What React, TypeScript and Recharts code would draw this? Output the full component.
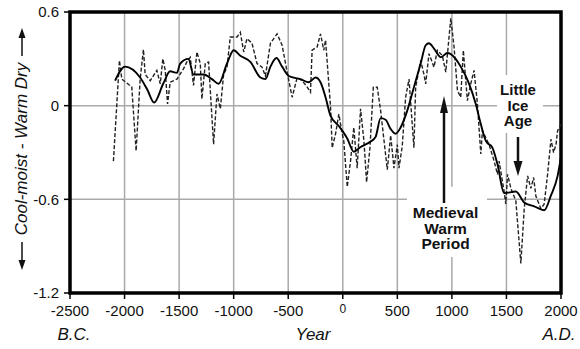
import React from "react";
import {
  LineChart,
  Line,
  XAxis,
  YAxis,
  CartesianGrid,
  ReferenceArea,
} from "recharts";

// smoothed curve (solid)
const smoothYears = [
  -2087, -1995, -1857, -1790, -1729, -1646, -1582, -1520, -1490, -1415, -1368,
  -1276, -1199, -1138, -1061, -1000, -939, -847, -755, -709, -663, -608, -556,
  -495, -388, -311, -250, -204, -158, -112, -36, 41, 101, 163, 255, 301, 347,
  393, 439, 484, 530, 591, 652, 714, 760, 790, 836, 898, 959, 990, 1081, 1158,
  1219, 1265, 1311, 1372, 1418, 1479, 1586, 1663, 1755, 1846, 1908, 1969, 2000,
];
const smoothValues = [
  0.16, 0.25, 0.18, 0.1, 0.02, 0.14, 0.22, 0.21, 0.27, 0.3, 0.2, 0.2, 0.17,
  0.14, 0.27, 0.355, 0.32, 0.28, 0.18, 0.17, 0.25, 0.305, 0.25, 0.19, 0.17,
  0.15, 0.18, 0.15, 0.054, -0.065, -0.13, -0.21, -0.295, -0.265, -0.23, -0.2,
  -0.08, -0.09, -0.15, -0.18, -0.14, -0.032, 0.118, 0.27, 0.387, 0.4, 0.366,
  0.31, 0.337, 0.33, 0.25, 0.14, 0.011, -0.118, -0.226, -0.27, -0.376, -0.56,
  -0.55, -0.62, -0.645, -0.67, -0.575, -0.45, -0.33,
];

// raw proxy record (dashed)
const proxyYears = [
  -2102, -2047, -2025, -1934, -1894, -1857, -1827, -1811, -1765, -1704, -1673,
  -1649, -1627, -1606, -1582, -1520, -1459, -1429, -1398, -1368, -1337, -1306,
  -1291, -1260, -1230, -1184, -1153, -1122, -1092, -1061, -1031, -969, -939,
  -908, -878, -832, -786, -740, -709, -663, -602, -556, -510, -464, -418, -372,
  -327, -296, -281, -235, -204, -174, -158, -112, -97, -66, -36, -5, 9, 41, 71,
  101, 132, 163, 194, 218, 249, 280, 316, 347, 408, 439, 469, 500, 515, 545,
  576, 607, 652, 668, 714, 744, 760, 790, 836, 867, 913, 944, 990, 1020, 1051,
  1081, 1105, 1142, 1173, 1203, 1234, 1265, 1280, 1341, 1387, 1418, 1433, 1479,
  1494, 1510, 1541, 1586, 1632, 1663, 1694, 1724, 1749, 1770, 1816, 1846, 1877,
  1908, 1932, 1954, 1969, 2000,
];
const proxyValues = [
  -0.355, 0.29, 0.17, 0.12, -0.29, 0.17, 0.36, 0.2, 0.16, 0.226, 0.14, 0.3,
  0.226, 0.011, 0.15, 0.17, 0.237, 0.28, 0.31, 0.13, 0.344, 0.27, 0.043, 0.27,
  0.28, -0.247, 0.075, -0.02, 0.2, 0.247, 0.44, 0.44, 0.47, 0.344, 0.43, 0.4,
  0.27, 0.247, 0.19, 0.4, 0.46, 0.387, 0.215, 0.054, 0.18, 0.16, 0.12, 0.086,
  0.355, 0.376, 0.46, 0.355, 0.42, -0.01, -0.27, -0.18, -0.054, -0.18, -0.226,
  -0.52, -0.355, -0.14, -0.4, -0.02, -0.226, -0.49, -0.27, 0.118, 0.118,
  -0.032, -0.41, -0.19, -0.4, -0.25, -0.4, -0.26, 0.054, 0.17, -0.27, 0.118,
  0.29, 0.2, 0.14, 0.333, 0.247, 0.355, 0.32, 0.215, 0.56, 0.376, 0.097, 0.054,
  0.355, 0.032, 0.14, 0.226, 0.011, -0.31, -0.16, -0.25, -0.355, -0.44, -0.355,
  -0.55, -0.63, -0.44, -0.53, -0.61, -1.01, -0.66, -0.45, -0.53, -0.46, -0.58,
  -0.66, -0.63, -0.44, -0.215, -0.3, -0.25, -0.16, -0.12,
];

const xTicks = [-2500, -2000, -1500, -1000, -500, 0, 500, 1000, 1500, 2000];
const yTicks = [-1.2, -0.6, 0, 0.6];

const smoothData = smoothYears.map((year, i) => ({ year, value: smoothValues[i] }));
const proxyData = proxyYears.map((year, i) => ({ year, value: proxyValues[i] }));

const FONT = "'Liberation Sans', Arial, Helvetica, sans-serif";

const XTick = (props: any) => {
  const { x, y, payload } = props;
  const zero = payload.value === 0;
  return (
    <text
      x={x}
      y={zero ? y + 12 : y + 15}
      textAnchor="middle"
      fill="#111"
      fontSize={zero ? 12 : 15}
      fontFamily={FONT}
    >
      {payload.value}
    </text>
  );
};

export default function App() {
  return (
    <div style={{ position: "absolute", left: 0, top: 0, width: 580, height: 349, background: "#fff" }}>
      <LineChart
        width={580}
        height={349}
        margin={{ top: 12, right: 19, left: 0, bottom: 0 }}
      >
        <CartesianGrid stroke="#a9a9a9" strokeWidth={1.5} />
        <XAxis
          dataKey="year"
          type="number"
          domain={[-2500, 2000]}
          ticks={xTicks}
          height={56}
          axisLine={false}
          tickLine={{ stroke: "#000", strokeWidth: 1.5 }}
          tickSize={6}
          tick={<XTick />}
          allowDuplicatedCategory={false}
        />
        <YAxis
          type="number"
          domain={[-1.2, 0.6]}
          ticks={yTicks}
          width={70}
          axisLine={false}
          tickLine={{ stroke: "#000", strokeWidth: 1.5 }}
          tickSize={6}
          tickMargin={5}
          tick={{ fill: "#111", fontSize: 15, fontFamily: FONT }}
        />
        {/* white boxes behind the annotations */}
        <ReferenceArea x1={588} x2={1322} y1={-0.97} y2={-0.52} fill="#fff" fillOpacity={1} stroke="none" />
        <ReferenceArea x1={1413} x2={1835} y1={-0.175} y2={0.197} fill="#fff" fillOpacity={1} stroke="none" />
        <Line
          data={proxyData}
          dataKey="value"
          type="linear"
          stroke="#222"
          strokeWidth={1.4}
          strokeDasharray="4 2"
          dot={false}
          isAnimationActive={false}
        />
        <Line
          data={smoothData}
          dataKey="value"
          type="monotone"
          stroke="#000"
          strokeWidth={1.9}
          dot={false}
          isAnimationActive={false}
        />
        <ReferenceArea
          x1={-2500}
          x2={2000}
          y1={-1.2}
          y2={0.6}
          fill="none"
          stroke="#000"
          strokeWidth={3.5}
          ifOverflow="visible"
        />
      </LineChart>
      <svg
        width={580}
        height={349}
        style={{ position: "absolute", left: 0, top: 0, pointerEvents: "none" }}
        fontFamily={FONT}
      >
        {/* y axis label with arrows */}
        <text
          x={0}
          y={0}
          transform="translate(21,149) rotate(-90)"
          textAnchor="middle"
          dominantBaseline="central"
          fontSize={17}
          fontStyle="italic"
          fill="#111"
        >
          Cool-moist - Warm Dry
        </text>
        <line x1={22} y1={56} x2={22} y2={36} stroke="#111" strokeWidth={1.5} />
        <polygon points="22,28 18.5,38 25.5,38" fill="#111" />
        <line x1={22} y1={242} x2={22} y2={262} stroke="#111" strokeWidth={1.5} />
        <polygon points="22,270 18.5,260 25.5,260" fill="#111" />

        {/* x axis labels */}
        <text x={74} y={340} textAnchor="middle" fontSize={17} fontStyle="italic" fill="#111">B.C.</text>
        <text x={313} y={340} textAnchor="middle" fontSize={17} fontStyle="italic" fill="#111">Year</text>
        <text x={559} y={340} textAnchor="middle" fontSize={17} fontStyle="italic" fill="#111">A.D.</text>

        {/* Little Ice Age */}
        <g fontSize={15} fontWeight="bold" fill="#111" textAnchor="middle">
          <text x={518} y={95}>Little</text>
          <text x={518} y={110.5}>Ice</text>
          <text x={518} y={126}>Age</text>
        </g>
        <line x1={518} y1={137} x2={518} y2={163} stroke="#111" strokeWidth={2.5} />
        <polygon points="518,176 513.5,161 522.5,161" fill="#111" />

        {/* Medieval Warm Period */}
        <line x1={444} y1={203} x2={444} y2={110} stroke="#111" strokeWidth={2.5} />
        <polygon points="444,96 440,113 448,113" fill="#111" />
        <g fontSize={15.5} fontWeight="bold" fill="#111" textAnchor="middle">
          <text x={445.5} y={218}>Medieval</text>
          <text x={445.5} y={233.5}>Warm</text>
          <text x={445.5} y={249}>Period</text>
        </g>
      </svg>
    </div>
  );
}
